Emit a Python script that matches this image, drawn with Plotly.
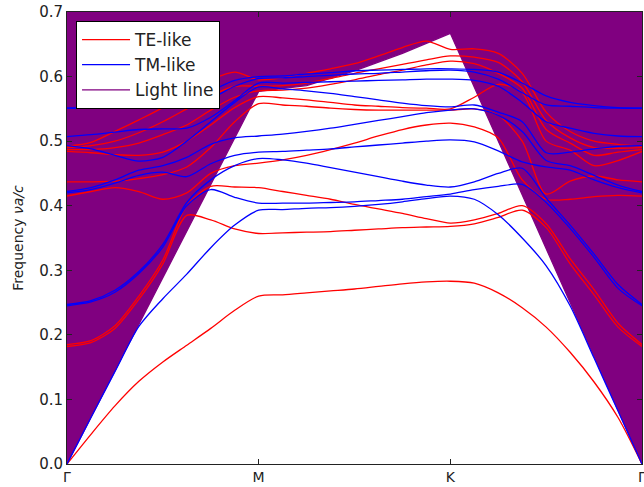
import plotly.graph_objects as go

# k-path sample positions (Γ=0, M=1, K=2, Γ=3), 8 samples per segment
k = [i / 8 for i in range(25)]
tick_pos = [0, 1, 2, 3]
tick_labels = ["Γ", "M", "K", "Γ"]
y_ticks = [0.0, 0.1, 0.2, 0.3, 0.4, 0.5, 0.6, 0.7]
y_tick_labels = ["0.0", "0.1", "0.2", "0.3", "0.4", "0.5", "0.6", "0.7"]

# TE-like bands (red)
te_1 = [0.000, 0.046, 0.090, 0.128, 0.158, 0.184, 0.210, 0.238, 0.260, 0.262, 0.265, 0.268, 0.271,
        0.275, 0.279, 0.282, 0.283, 0.280, 0.265, 0.242, 0.212, 0.173, 0.127, 0.072, 0.000]
te_2 = [0.182, 0.188, 0.210, 0.255, 0.310, 0.385, 0.378, 0.364, 0.357, 0.358, 0.359, 0.360, 0.362,
        0.364, 0.366, 0.367, 0.368, 0.372, 0.382, 0.393, 0.366, 0.310, 0.262, 0.212, 0.182]
te_3 = [0.185, 0.191, 0.214, 0.260, 0.316, 0.400, 0.430, 0.429, 0.428, 0.422, 0.416, 0.410, 0.402,
        0.395, 0.388, 0.380, 0.373, 0.378, 0.388, 0.400, 0.372, 0.318, 0.270, 0.218, 0.185]
te_4 = [0.415, 0.422, 0.428, 0.422, 0.410, 0.420, 0.450, 0.462, 0.466, 0.471, 0.478, 0.487, 0.497,
        0.508, 0.518, 0.525, 0.528, 0.522, 0.505, 0.440, 0.410, 0.410, 0.414, 0.416, 0.415]
te_5 = [0.437, 0.437, 0.438, 0.442, 0.448, 0.460, 0.490, 0.530, 0.558, 0.556, 0.554, 0.551, 0.549,
        0.548, 0.548, 0.548, 0.548, 0.550, 0.540, 0.500, 0.418, 0.438, 0.446, 0.440, 0.437]
te_6 = [0.484, 0.482, 0.479, 0.478, 0.483, 0.500, 0.525, 0.552, 0.569, 0.567, 0.564, 0.560, 0.556,
        0.554, 0.552, 0.551, 0.550, 0.568, 0.588, 0.575, 0.500, 0.486, 0.462, 0.470, 0.484]
te_7 = [0.487, 0.487, 0.490, 0.497, 0.510, 0.525, 0.548, 0.568, 0.578, 0.579, 0.582, 0.588, 0.595,
        0.603, 0.610, 0.618, 0.624, 0.620, 0.605, 0.582, 0.518, 0.497, 0.478, 0.483, 0.487]
te_8 = [0.490, 0.493, 0.500, 0.513, 0.530, 0.550, 0.570, 0.585, 0.585, 0.586, 0.590, 0.597, 0.605,
        0.612, 0.619, 0.626, 0.632, 0.630, 0.622, 0.592, 0.532, 0.505, 0.490, 0.489, 0.490]
te_9 = [0.492, 0.498, 0.515, 0.533, 0.552, 0.575, 0.595, 0.607, 0.595, 0.598, 0.605, 0.612, 0.620,
        0.632, 0.645, 0.655, 0.642, 0.643, 0.636, 0.605, 0.545, 0.515, 0.500, 0.495, 0.492]

# TM-like bands (blue)
tm_1 = [0.000, 0.072, 0.143, 0.213, 0.256, 0.294, 0.335, 0.370, 0.393, 0.394, 0.396, 0.397, 0.399,
        0.402, 0.406, 0.411, 0.415, 0.410, 0.386, 0.350, 0.307, 0.245, 0.164, 0.082, 0.000]
tm_2 = [0.245, 0.251, 0.266, 0.295, 0.336, 0.400, 0.425, 0.413, 0.404, 0.404, 0.404, 0.405, 0.406,
        0.408, 0.410, 0.414, 0.418, 0.425, 0.430, 0.433, 0.405, 0.365, 0.320, 0.272, 0.245]
tm_3 = [0.247, 0.253, 0.269, 0.298, 0.340, 0.405, 0.440, 0.462, 0.473, 0.471, 0.466, 0.459, 0.452,
        0.445, 0.438, 0.432, 0.429, 0.437, 0.450, 0.458, 0.412, 0.370, 0.325, 0.278, 0.247]
tm_4 = [0.420, 0.425, 0.435, 0.447, 0.452, 0.445, 0.465, 0.478, 0.483, 0.484, 0.486, 0.488, 0.491,
        0.494, 0.497, 0.500, 0.502, 0.499, 0.485, 0.468, 0.460, 0.455, 0.440, 0.428, 0.420]
tm_5 = [0.422, 0.428, 0.440, 0.455, 0.462, 0.475, 0.495, 0.505, 0.508, 0.511, 0.515, 0.520, 0.526,
        0.532, 0.538, 0.544, 0.548, 0.550, 0.540, 0.515, 0.470, 0.462, 0.447, 0.432, 0.422]
tm_6 = [0.493, 0.488, 0.478, 0.469, 0.475, 0.500, 0.530, 0.560, 0.584, 0.581, 0.578, 0.574, 0.569,
        0.564, 0.559, 0.555, 0.553, 0.556, 0.545, 0.530, 0.482, 0.483, 0.488, 0.492, 0.493]
tm_7 = [0.507, 0.510, 0.514, 0.518, 0.519, 0.520, 0.537, 0.563, 0.590, 0.590, 0.591, 0.592, 0.593,
        0.594, 0.595, 0.596, 0.596, 0.594, 0.585, 0.560, 0.530, 0.520, 0.512, 0.508, 0.507]
tm_8 = [0.551, 0.551, 0.552, 0.552, 0.553, 0.556, 0.566, 0.585, 0.597, 0.598, 0.600, 0.602, 0.604,
        0.605, 0.607, 0.609, 0.610, 0.607, 0.596, 0.575, 0.556, 0.554, 0.552, 0.551, 0.551]
tm_9 = [0.551, 0.552, 0.553, 0.555, 0.558, 0.565, 0.578, 0.594, 0.600, 0.601, 0.604, 0.606, 0.609,
        0.610, 0.611, 0.612, 0.612, 0.611, 0.607, 0.590, 0.570, 0.560, 0.555, 0.552, 0.551]

# Light line
k_light = [0, 1, 1.25, 1.5, 1.75, 2, 3]
light_line = [0.0, 0.577, 0.586, 0.609, 0.636, 0.667, 0.0]
y_max = 0.7

te_bands = [te_1, te_2, te_3, te_4, te_5, te_6, te_7, te_8, te_9]
tm_bands = [tm_1, tm_2, tm_3, tm_4, tm_5, tm_6, tm_7, tm_8, tm_9]

PURPLE = "#800080"
TXT = "#222222"
fig = go.Figure()

# filled region above the light line
fig.add_trace(go.Scatter(
    x=k_light + [k_light[-1], k_light[0]],
    y=light_line + [y_max, y_max],
    fill="toself", fillcolor=PURPLE, mode="none",
    showlegend=False, hoverinfo="skip"))
fig.add_trace(go.Scatter(
    x=k_light, y=light_line, mode="lines",
    line=dict(color=PURPLE, width=1.3), name="Light line",
    legendrank=3))

for i, b in enumerate(te_bands):
    fig.add_trace(go.Scatter(
        x=k, y=b, mode="lines",
        line=dict(color="#ff0000", width=1.3, shape="spline", smoothing=0.8),
        name="TE-like", legendgroup="te", showlegend=(i == 0), legendrank=1))
for i, b in enumerate(tm_bands):
    fig.add_trace(go.Scatter(
        x=k, y=b, mode="lines",
        line=dict(color="#0000ff", width=1.3, shape="spline", smoothing=0.8),
        name="TM-like", legendgroup="tm", showlegend=(i == 0), legendrank=2))

axis_common = dict(
    showline=True, linecolor=TXT, linewidth=1, mirror="allticks",
    ticks="inside", ticklen=5, tickcolor=TXT, showgrid=False, automargin=False,
    zeroline=False, ticklabeloverflow="allow")

fig.update_xaxes(range=[0, 3], tickvals=tick_pos, ticktext=tick_labels,
                 tickfont=dict(family="DejaVu Sans", size=14, color=TXT), **axis_common)
fig.update_yaxes(range=[0, y_max], tickvals=y_ticks, ticktext=y_tick_labels,
                 tickfont=dict(family="DejaVu Sans", size=15, color=TXT),
                 title=dict(text="Frequency <i>νa/c</i>",
                            font=dict(family="DejaVu Sans", size=14, color=TXT),
                            standoff=12),
                 **axis_common)

fig.update_layout(
    width=644, height=487,
    margin=dict(l=67, r=2, t=12, b=23),
    plot_bgcolor="white", paper_bgcolor="white",
    font=dict(family="DejaVu Sans", color=TXT),
    legend=dict(x=0.0157, y=0.98, xanchor="left", yanchor="top",
                bgcolor="white", bordercolor="black", borderwidth=1,
                font=dict(family="DejaVu Sans", size=17, color=TXT),
                traceorder="normal", itemwidth=48),
    showlegend=True,
)

# remove the default page margin so the 644x487 figure fills the window exactly
fig.write_html("out.html",
               config={"displayModeBar": False},
               post_script="document.body.style.margin='0';document.body.style.overflow='hidden';")
